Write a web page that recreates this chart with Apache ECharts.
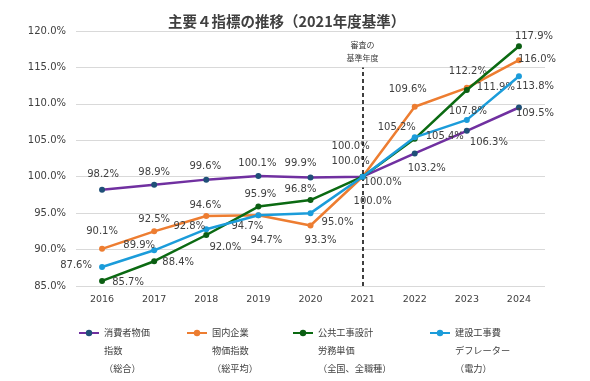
<!DOCTYPE html>
<html>
<head>
<meta charset="utf-8">
<script src="https://cdn.jsdelivr.net/npm/echarts@6/dist/echarts.min.js"></script>
<style>
html,body{margin:0;padding:0;background:#fff;}
#main{width:590px;height:381px;}
</style>
</head>
<body>
<div id="main"></div>
<script>
// ---- data ----
const years = ['2016','2017','2018','2019','2020','2021','2022','2023','2024'];
const cpi = [98.2, 98.9, 99.6, 100.1, 99.9, 100.0, 103.2, 106.3, 109.5];
const cgpi = [90.1, 92.5, 94.6, 94.7, 93.3, 100.0, 109.6, 112.2, 116.0];
const labourCost = [85.7, 88.4, 92.0, 95.9, 96.8, 100.0, 105.2, 111.9, 117.9];
const deflator = [87.6, 89.9, 92.8, 94.7, 95.0, 100.0, 105.4, 107.8, 113.8];
const seriesNames = ['消費者物価指数（総合）', '国内企業物価指数（総平均）', '公共工事設計労務単価（全国、全職種）', '建設工事費デフレーター（電力）'];
const legendLines = [
  ['消費者物価', '指数', '（総合）'],
  ['国内企業', '物価指数', '（総平均）'],
  ['公共工事設計', '労務単価', '（全国、全職種）'],
  ['建設工事費', 'デフレーター', '（電力）']
];
const titleText = '主要４指標の推移（2021年度基準）';
const baseYear = '2021';
const baseYearLabel = '審査の\n基準年度';
const yMin = 85, yMax = 120, yStep = 5;

// ---- layout / style (not data) ----
const lineColors = ['#7030A0', '#ED7D31', '#0B6A12', '#1B9CDA'];
const markerColors = ['#1F5078', '#ED7D31', '#0B5E12', '#1B9CDA'];
const labelOffsets = [
  [[1,-15],[0,-12],[-1,-13],[-1,-13],[-10,-14],[-12,-30],[12,15],[22,12],[16,6]],
  [[0,-17],[0,-12],[-1,-11],[-11,11],[10,15],[-12,-15],[-7,-17],[1,-16],[18,-1]],
  [[26,2],[24,1],[19,12],[2,-12],[-10,-11],[20,6],[-18,-11],[29,-3],[15,-10]],
  [[-26,-2],[-15,-5],[-17,-3],[8,25],[27,9],[10,25],[30,-1],[1,-8],[16,10]]
];
const legendLefts = [78, 186, 292, 429];
const TXT = '#404040';
const NUMFONT = 'DejaVu Sans';
const JPFONT = 'Noto Sans CJK JP';

const allValues = [cpi, cgpi, labourCost, deflator];

const series = allValues.map((vals, si) => ({
  name: seriesNames[si],
  type: 'line',
  z: 2 + si,
  data: vals.map((v, i) => ({
    value: v,
    label: { offset: labelOffsets[si][i] }
  })),
  symbol: 'circle',
  symbolSize: 6,
  lineStyle: { color: lineColors[si], width: 2.5 },
  itemStyle: { color: markerColors[si], borderWidth: 0 },
  label: {
    show: true,
    position: 'inside',
    formatter: p => p.value.toFixed(1) + '%',
    fontFamily: NUMFONT,
    fontSize: 10,
    color: TXT
  },
  emphasis: { disabled: true }
}));

series[0].markLine = {
  silent: true,
  symbol: 'none',
  animation: false,
  lineStyle: { color: '#000', type: [4, 3], width: 1.5 },
  label: {
    position: 'end',
    formatter: baseYearLabel,
    fontFamily: JPFONT,
    fontSize: 8,
    lineHeight: 13,
    color: TXT,
    distance: 3
  },
  data: [[{ coord: [baseYear, yMin] }, { coord: [baseYear, yMax - yStep] }]]
};

const legends = seriesNames.map((n, i) => ({
  data: [n],
  left: legendLefts[i],
  top: 288,
  padding: 0,
  itemWidth: 20,
  itemHeight: 8,
  selectedMode: false,
  // two leading blank lines so the first text line sits level with the icon
  formatter: () => '\n\n' + legendLines[i].join('\n'),
  textStyle: {
    fontFamily: JPFONT,
    fontSize: 9.2,
    lineHeight: 18,
    color: TXT
  }
}));

const chart = echarts.init(document.getElementById('main'), null, { renderer: 'canvas' });
chart.setOption({
  animation: false,
  backgroundColor: '#fff',
  title: {
    text: titleText,
    left: 163,
    top: 9,
    textStyle: { fontFamily: JPFONT, fontSize: 14.5, fontWeight: 'bold', color: TXT }
  },
  legend: legends,
  grid: { left: 76, right: 45, top: 31, bottom: 95, containLabel: false },
  xAxis: {
    type: 'category',
    data: years,
    boundaryGap: true,
    axisLine: { show: false },
    axisTick: { show: false },
    axisLabel: { color: TXT, fontFamily: NUMFONT, fontSize: 9.5, margin: 9 }
  },
  yAxis: {
    type: 'value',
    min: yMin,
    max: yMax,
    interval: yStep,
    axisLine: { show: false },
    axisTick: { show: false },
    splitLine: { lineStyle: { color: '#D9D9D9', width: 1 } },
    axisLabel: {
      color: TXT, fontFamily: NUMFONT, fontSize: 10, margin: 10,
      formatter: v => v.toFixed(1) + '%'
    }
  },
  series: series
});
</script>
</body>
</html>
